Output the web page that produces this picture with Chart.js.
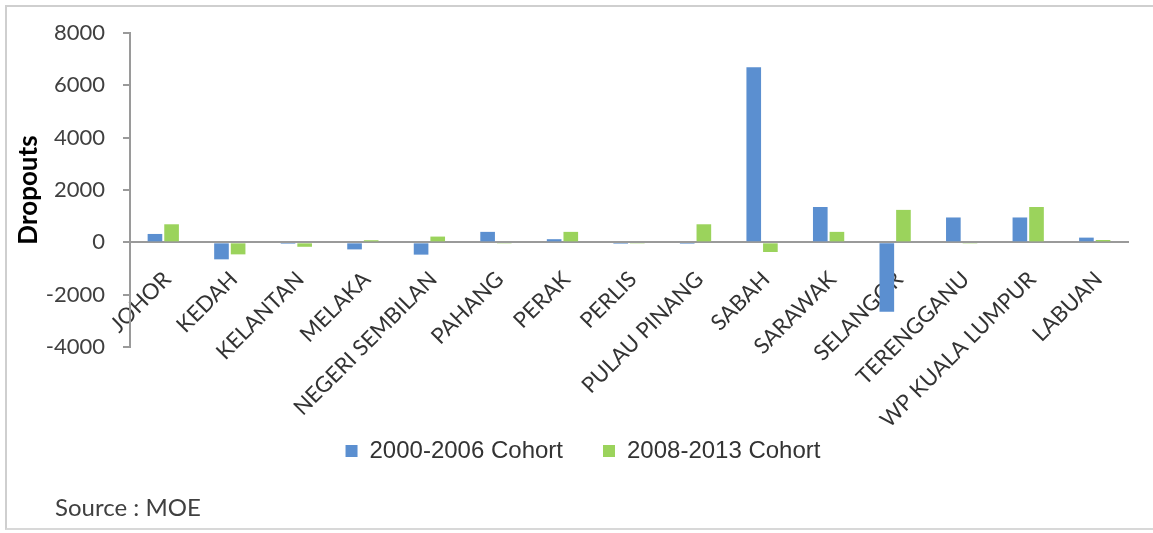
<!DOCTYPE html>
<html>
<head>
<meta charset="utf-8">
<script src="https://cdn.jsdelivr.net/npm/chart.js@4.4.1/dist/chart.umd.min.js"></script>
<style>
  html, body { margin: 0; padding: 0; background: #ffffff; overflow: hidden; }
  #wrap { position: relative; width: 1153px; height: 533px; overflow: hidden; }
  #frame { position: absolute; left: 5px; top: 5px; width: 1300px; height: 521px;
           border-left: 2px solid #cfcfcf; border-top: 2px solid #cfcfcf; border-bottom: 2px solid #d8d8d8; }
  #c { position: absolute; left: 0; top: 0; }
  #source { position: absolute; left: 55px; top: 492px; font-family: Lato, sans-serif; font-size: 24px; color: #404040; }
</style>
</head>
<body>
<div id="wrap">
  <div id="frame"></div>
  <canvas id="c" width="1153" height="533"></canvas>
  <div id="source">Source : MOE</div>
</div>
<script>
const categories = ['JOHOR', 'KEDAH', 'KELANTAN', 'MELAKA', 'NEGERI SEMBILAN', 'PAHANG', 'PERAK', 'PERLIS',
  'PULAU PINANG', 'SABAH', 'SARAWAK', 'SELANGOR', 'TERENGGANU', 'WP KUALA LUMPUR', 'LABUAN'];
const seriesNames = ['2000-2006 Cohort', '2008-2013 Cohort'];
const cohort2000 = [320, -650, -60, -270, -470, 400, 120, -60, -60, 6690, 1350, -2650, 950, 950, 180];
const cohort2008 = [690, -460, -170, 80, 220, -50, 400, -50, 690, -370, 400, 1240, -50, 1350, 90];
const yMin = -4000;
const yMax = 8000;
const yStep = 2000;
const yTitle = 'Dropouts';

Chart.defaults.font.family = 'Lato, sans-serif';
Chart.defaults.color = '#404040';

new Chart(document.getElementById('c'), {
  type: 'bar',
  data: {
    labels: categories,
    datasets: [
      { label: seriesNames[0], data: cohort2000, backgroundColor: '#5b8fd0', borderWidth: 0 },
      { label: seriesNames[1], data: cohort2008, backgroundColor: '#9bd35c', borderWidth: 0 }
    ]
  },
  options: {
    responsive: false,
    devicePixelRatio: 1,
    animation: false,
    categoryPercentage: 0.5,
    barPercentage: 0.88,
    layout: { padding: { left: 38, top: 33, right: 25, bottom: 60 } },
    plugins: {
      tooltip: { enabled: false },
      legend: {
        position: 'bottom',
        align: 'center',
        title: { display: true, text: '', font: { size: 10 }, padding: { top: 40, bottom: 0 } },
        labels: {
          boxWidth: 12, boxHeight: 12, padding: 40, color: '#333333',
          font: { family: '"Liberation Sans", Arial, sans-serif', size: 24 }
        }
      }
    },
    scales: {
      x: {
        position: { y: 0 },
        z: 1,
        grid: { display: false },
        border: { display: true, color: '#9a9a9a', width: 2 },
        ticks: { autoSkip: false, minRotation: 45, maxRotation: 45, padding: 16, labelOffset: 4,
                 color: '#333333', font: { size: 22 } },
        afterFit: (s) => { s.height = 0; }
      },
      y: {
        min: yMin, max: yMax,
        ticks: { stepSize: yStep, padding: 18, color: '#404040', font: { size: 22 },
                 callback: (v) => String(v) },
        grid: { display: true, drawOnChartArea: false, drawTicks: true, tickLength: 7, color: '#9a9a9a', lineWidth: 2 },
        border: { display: true, color: '#9a9a9a', width: 2 },
        title: { display: true, text: yTitle, color: '#000000', font: { size: 26, weight: 'bold' }, padding: { top: -25, bottom: 0 } },
        afterFit: (s) => { s.width = 92; }
      }
    }
  }
});
</script>
</body>
</html>
